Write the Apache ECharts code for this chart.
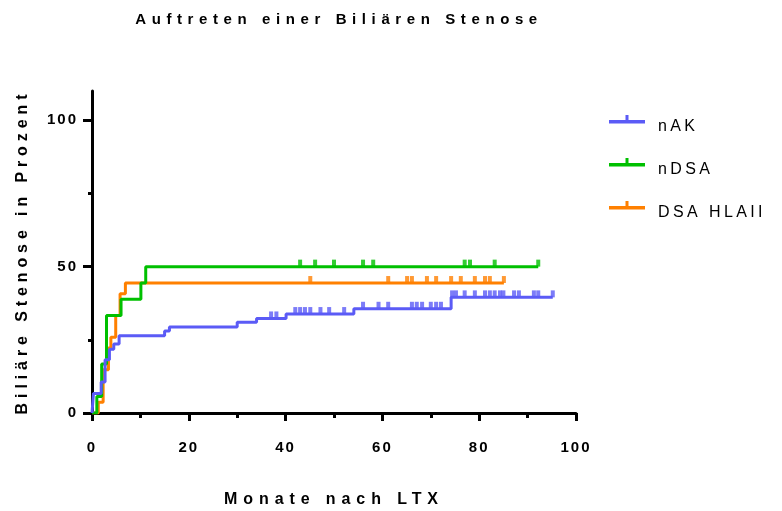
<!DOCTYPE html>
<html><head><meta charset="utf-8">
<script src="https://cdn.jsdelivr.net/npm/echarts@6/dist/echarts.min.js"></script>
<style>html,body{margin:0;padding:0;background:#fff}#c{width:782px;height:511px}</style>
</head><body><div id="c"></div>
<script>
// letter spacing support: font family list carries a marker "spNN" => NN/10 px
(function(){
  var P = CanvasRenderingContext2D.prototype;
  function sp(ctx){ var m = /sp(\d+)/.exec(ctx.font || ''); try { ctx.letterSpacing = m ? (m[1]/10)+'px' : '0px'; } catch(e){} }
  var ft = P.fillText; P.fillText = function(){ sp(this); return ft.apply(this, arguments); };
  var mt = P.measureText; P.measureText = function(){ sp(this); return mt.apply(this, arguments); };
})();

// ---- data ----
var seriesNames = ['nAK', 'nDSA', 'DSA HLAII'];
var nakTimes  = [0, 0.3, 1.9, 2.7, 3.6, 4.5, 5.6, 15.0, 16.0, 30.0, 34.0, 40.1, 54.1, 74.2, 95.2];
var nakValues = [0, 6.7, 10.6, 18.2, 21.8, 23.6, 26.4, 28.0, 29.4, 31.0, 32.3, 33.8, 35.6, 39.5, 39.5];
var nakCensor = [37.0, 38.1, 42.0, 43.0, 44.0, 45.1, 47.2, 49.0, 52.1, 56.0, 59.2, 61.2, 66.1, 67.1, 68.2, 70.0, 71.1, 72.1, 74.4, 75.2, 77.0, 79.1, 81.2, 82.2, 83.2, 84.3, 85.0, 87.2, 88.2, 91.3, 92.2, 95.2];
var ndsaTimes  = [0, 1.0, 2.0, 3.0, 6.0, 10.1, 11.1, 92.2];
var ndsaValues = [0, 5.6, 16.7, 33.3, 38.9, 44.4, 50.0, 50.0];
var ndsaCensor = [43.0, 46.1, 50.0, 56.0, 58.1, 77.0, 78.1, 83.2, 92.2];
var hlaTimes  = [0, 1.3, 2.3, 3.4, 3.9, 4.9, 5.8, 6.9, 85.1];
var hlaValues = [0, 3.7, 14.8, 22.2, 25.9, 33.3, 40.7, 44.4, 44.4];
var hlaCensor = [45.1, 61.2, 65.1, 66.1, 69.2, 71.1, 74.2, 76.2, 79.1, 81.2, 82.2, 85.1];
var xTicks = [0, 20, 40, 60, 80, 100];
var yTicks = [0, 50, 100];
var yMinorTicks = [25, 75];

var colors = {nAK: '#5b5bf6', nDSA: '#00c000', 'DSA HLAII': '#ff8000'};

function pairs(ts, vs){ return ts.map(function(t,i){ return [t, vs[i]]; }); }
function stepValue(ts, vs, t){ var v = 0; for (var i=0;i<ts.length;i++){ if (ts[i] <= t) v = vs[i]; } return v; }
function censorPts(ts, vs, cs){ return cs.map(function(t){ return [t, stepValue(ts, vs, t)]; }); }

var groups = [
  {name: 'DSA HLAII', t: hlaTimes, v: hlaValues, c: hlaCensor, z: 2},
  {name: 'nDSA', t: ndsaTimes, v: ndsaValues, c: ndsaCensor, z: 3},
  {name: 'nAK', t: nakTimes, v: nakValues, c: nakCensor, z: 4}
];
var series = [];
groups.forEach(function(g){
  series.push({
    name: g.name, type: 'line', step: 'end', data: pairs(g.t, g.v), z: g.z,
    showSymbol: false, symbol: 'none', color: colors[g.name],
    lineStyle: {width: 3, color: colors[g.name]}, animation: false
  });
  series.push({
    name: g.name, type: 'scatter', data: censorPts(g.t, g.v, g.c), z: g.z,
    symbol: 'rect', symbolSize: [4, 7], symbolOffset: [0, -3.5],
    itemStyle: {color: colors[g.name]}, animation: false
  });
});

// line with censor tick; a negligible point at the bottom lifts the line above the text centre
var legendIcon = 'path://M0,5 L36,5 L36,8.5 L0,8.5 Z M16.5,0 L19.5,0 L19.5,6 L16.5,6 Z M0,22.5 L0.01,22.5 L0,22.49 Z';

var chart = echarts.init(document.getElementById('c'), null, {renderer: 'canvas'});
chart.setOption({
  animation: false,
  backgroundColor: '#ffffff',
  title: {
    text: 'Auftreten einer Biliären Stenose', left: 334, textAlign: 'center', top: 5,
    textStyle: {fontFamily: 'Arial, sp56', fontWeight: 'bold', fontSize: 15, color: '#000'}
  },
  legend: {
    orient: 'vertical', left: 604, top: 110, itemGap: 20.5,
    itemWidth: 36, itemHeight: 22.5, icon: legendIcon,
    data: seriesNames.map(function(n){ return {name: n, icon: legendIcon, itemStyle: {color: colors[n]}}; }),
    textStyle: {fontFamily: 'Arial, sp34', fontSize: 16, color: '#000', padding: [0, 0, 0, 8]}
  },
  grid: {left: 92, right: 206, top: 91, bottom: 98, containLabel: false, outerBoundsMode: 'none'},
  xAxis: {
    type: 'value', min: 0, max: 100, interval: 20,
    name: 'Monate nach LTX', nameLocation: 'middle', nameGap: 76,
    nameTextStyle: {fontFamily: 'Arial, sp59', fontWeight: 'bold', fontSize: 16, color: '#000'},
    axisLine: {show: true, onZero: false, lineStyle: {color: '#000', width: 3}},
    axisTick: {show: true, length: 8, lineStyle: {color: '#000', width: 3}},
    minorTick: {show: true, splitNumber: 2, length: 5, lineStyle: {color: '#000', width: 3}},
    axisLabel: {margin: 26, fontFamily: 'Arial, sp20', fontWeight: 'bold', fontSize: 15, color: '#000',
      customValues: xTicks},
    splitLine: {show: false}
  },
  yAxis: [{
    type: 'value', min: 0, max: 110, interval: 50,
    name: 'Biliäre Stenose in Prozent', nameLocation: 'middle', nameGap: 59, nameRotate: 90,
    nameTextStyle: {fontFamily: 'Arial, sp49', fontWeight: 'bold', fontSize: 16, color: '#000'},
    axisLine: {show: true, onZero: false, lineStyle: {color: '#000', width: 3}},
    axisTick: {show: true, length: 9, lineStyle: {color: '#000', width: 3}, customValues: yTicks},
    axisLabel: {margin: 14, fontFamily: 'Arial, sp20', fontWeight: 'bold', fontSize: 15, color: '#000', customValues: yTicks},
    splitLine: {show: false}
  }, {
    type: 'value', min: 0, max: 110, position: 'left', offset: 0, alignTicks: false,
    axisLine: {show: false},
    axisTick: {show: true, length: 4, lineStyle: {color: '#000', width: 3}, customValues: yMinorTicks},
    axisLabel: {show: false},
    splitLine: {show: false}
  }],
  series: series
});
</script></body></html>
